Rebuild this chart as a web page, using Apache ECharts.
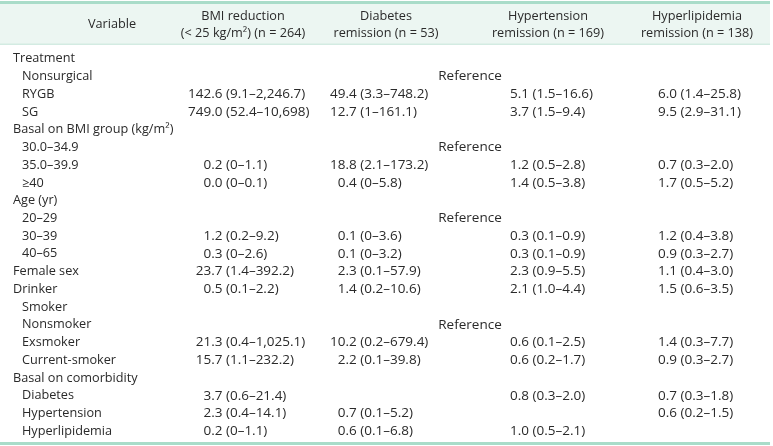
<!DOCTYPE html>
<html><head><meta charset="utf-8">
<script src="https://cdn.jsdelivr.net/npm/echarts@6/dist/echarts.min.js"></script>
<style>html,body{margin:0;padding:0;background:#fff}#c{width:773px;height:446px}</style>
</head><body><div id="c"></div>
<script>
// ---------- data ----------
const rows = ['Treatment','Nonsurgical','RYGB','SG','Basal on BMI group (kg/m²)','30.0–34.9','35.0–39.9','≥40','Age (yr)','20–29','30–39','40–65','Female sex','Drinker','Smoker','Nonsmoker','Exsmoker','Current-smoker','Basal on comorbidity','Diabetes','Hypertension','Hyperlipidemia'];
const rowLevel = [0,1,1,1,0,1,1,1,0,1,1,1,0,0,1,1,1,1,0,1,1,1];
const referenceRows = [1,5,9,15];
const referenceText = 'Reference';
const headerVariable = 'Variable';
const headers = [
  ['BMI reduction','(< 25 kg/m²) (n = 264)'],
  ['Diabetes','remission (n = 53)'],
  ['Hypertension','remission (n = 169)'],
  ['Hyperlipidemia','remission (n = 138)']
];
const bmiReduction = ['','','142.6 (9.1–2,246.7)','749.0 (52.4–10,698)','','','0.2 (0–1.1)','0.0 (0–0.1)','','','1.2 (0.2–9.2)','0.3 (0–2.6)','23.7 (1.4–392.2)','0.5 (0.1–2.2)','','','21.3 (0.4–1,025.1)','15.7 (1.1–232.2)','','3.7 (0.6–21.4)','2.3 (0.4–14.1)','0.2 (0–1.1)'];
const diabetesRemission = ['','','49.4 (3.3–748.2)','12.7 (1–161.1)','','','18.8 (2.1–173.2)','0.4 (0–5.8)','','','0.1 (0–3.6)','0.1 (0–3.2)','2.3 (0.1–57.9)','1.4 (0.2–10.6)','','','10.2 (0.2–679.4)','2.2 (0.1–39.8)','','','0.7 (0.1–5.2)','0.6 (0.1–6.8)'];
const hypertensionRemission = ['','','5.1 (1.5–16.6)','3.7 (1.5–9.4)','','','1.2 (0.5–2.8)','1.4 (0.5–3.8)','','','0.3 (0.1–0.9)','0.3 (0.1–0.9)','2.3 (0.9–5.5)','2.1 (1.0–4.4)','','','0.6 (0.1–2.5)','0.6 (0.2–1.7)','','0.8 (0.3–2.0)','','1.0 (0.5–2.1)'];
const hyperlipidemiaRemission = ['','','6.0 (1.4–25.8)','9.5 (2.9–31.1)','','','0.7 (0.3–2.0)','1.7 (0.5–5.2)','','','1.2 (0.4–3.8)','0.9 (0.3–2.7)','1.1 (0.4–3.0)','1.5 (0.6–3.5)','','','1.4 (0.3–7.7)','0.9 (0.3–2.7)','','0.7 (0.3–1.8)','0.6 (0.2–1.5)',''];

// ---------- layout / style ----------
const W = 773;
const FONT_FAMILY = '"Open Sans"';
const LABEL_SIZE = 12.7;
const VALUE_SIZE = 13.5;
const TEXT = '#2a2a2a';
const ACCENT = '#a9dcc9';
const HEAD_BG = '#ecf6f2';
const HEAD_LINE = '#d3ebe2';
const varX = [13, 22];
const headerCenters = [112, 243, 386, 548, 697];
const columnStarts = [188, 330, 510, 658];
const referenceCenter = 470;

const ctx = document.createElement('canvas').getContext('2d');
ctx.font = VALUE_SIZE + 'px ' + FONT_FAMILY;
function intPart(t){ const m = t.match(/^[0-9]+/); return m ? m[0] : ''; }
function intWidth(t){ return ctx.measureText(intPart(t)).width; }
function decimalAnchor(cells, start){
  let w = 0; cells.forEach(t=>{ if(t) w = Math.max(w, intWidth(t)); });
  return start + w;
}

function textStyle(text, align, size){
  return {text:text, fill:TEXT, font:size + 'px ' + FONT_FAMILY, fontSize:size, fontFamily:FONT_FAMILY,
          textAlign:align, textVerticalAlign:'middle', align:align, verticalAlign:'middle'};
}

function columnSeries(name, cells, anchorX, mode){
  const items = [];
  cells.forEach((t,i)=>{ if(t) items.push({t:t, i:i}); });
  return {
    type:'custom', name:name, silent:true, animation:false,
    data: items.map(d=>[anchorX, d.i]),
    renderItem: function(params, api){
      const d = items[params.dataIndex];
      const p = api.coord([api.value(0), api.value(1)]);
      let x = p[0], align = 'left';
      if (mode === 'decimal') x = p[0] - intWidth(d.t);
      if (mode === 'center') align = 'center';
      return {type:'text', x:x, y:p[1], style:textStyle(d.t, align, VALUE_SIZE)};
    }
  };
}

const varSeries = {
  type:'custom', name:'variable', silent:true, animation:false,
  data: rows.map((r,i)=>[varX[rowLevel[i]], i]),
  renderItem: function(params, api){
    const p = api.coord([api.value(0), api.value(1)]);
    return {type:'text', x:p[0], y:p[1], style:textStyle(rows[params.dataIndex], 'left', LABEL_SIZE)};
  }
};

const refCells = rows.map((r,i)=> referenceRows.indexOf(i) >= 0 ? referenceText : '');
const valueCols = [bmiReduction, diabetesRemission, hypertensionRemission, hyperlipidemiaRemission];
const valueNames = ['BMI reduction','Diabetes remission','Hypertension remission','Hyperlipidemia remission'];

const graphic = [
  {type:'rect', shape:{x:0, y:4, width:W-3, height:40}, style:{fill:HEAD_BG}, z:0},
  {type:'rect', shape:{x:0, y:1, width:W-3, height:3}, style:{fill:ACCENT}, z:1},
  {type:'rect', shape:{x:0, y:43.5, width:W-3, height:1.5}, style:{fill:HEAD_LINE}, z:1},
  {type:'rect', shape:{x:0, y:442, width:W-3, height:3}, style:{fill:ACCENT}, z:1},
  {type:'text', x:headerCenters[0], y:24, style:textStyle(headerVariable,'center', LABEL_SIZE), z:2}
];
headers.forEach((h,k)=>{
  graphic.push({type:'text', x:headerCenters[k+1], y:16, style:textStyle(h[0],'center', LABEL_SIZE), z:2});
  graphic.push({type:'text', x:headerCenters[k+1], y:33, style:textStyle(h[1],'center', LABEL_SIZE), z:2});
});

const series = [varSeries];
valueCols.forEach((cells,k)=>{
  series.push(columnSeries(valueNames[k], cells, decimalAnchor(cells, columnStarts[k]), 'decimal'));
});
series.push(columnSeries('Reference', refCells, referenceCenter, 'center'));

const chart = echarts.init(document.getElementById('c'), null, {renderer:'canvas'});
chart.setOption({
  animation:false,
  grid:{left:0, right:0, top:50, bottom:6},
  xAxis:{type:'value', min:0, max:W, show:false},
  yAxis:{type:'category', data:rows, inverse:true, show:false},
  graphic: graphic,
  series: series
});
</script></body></html>
